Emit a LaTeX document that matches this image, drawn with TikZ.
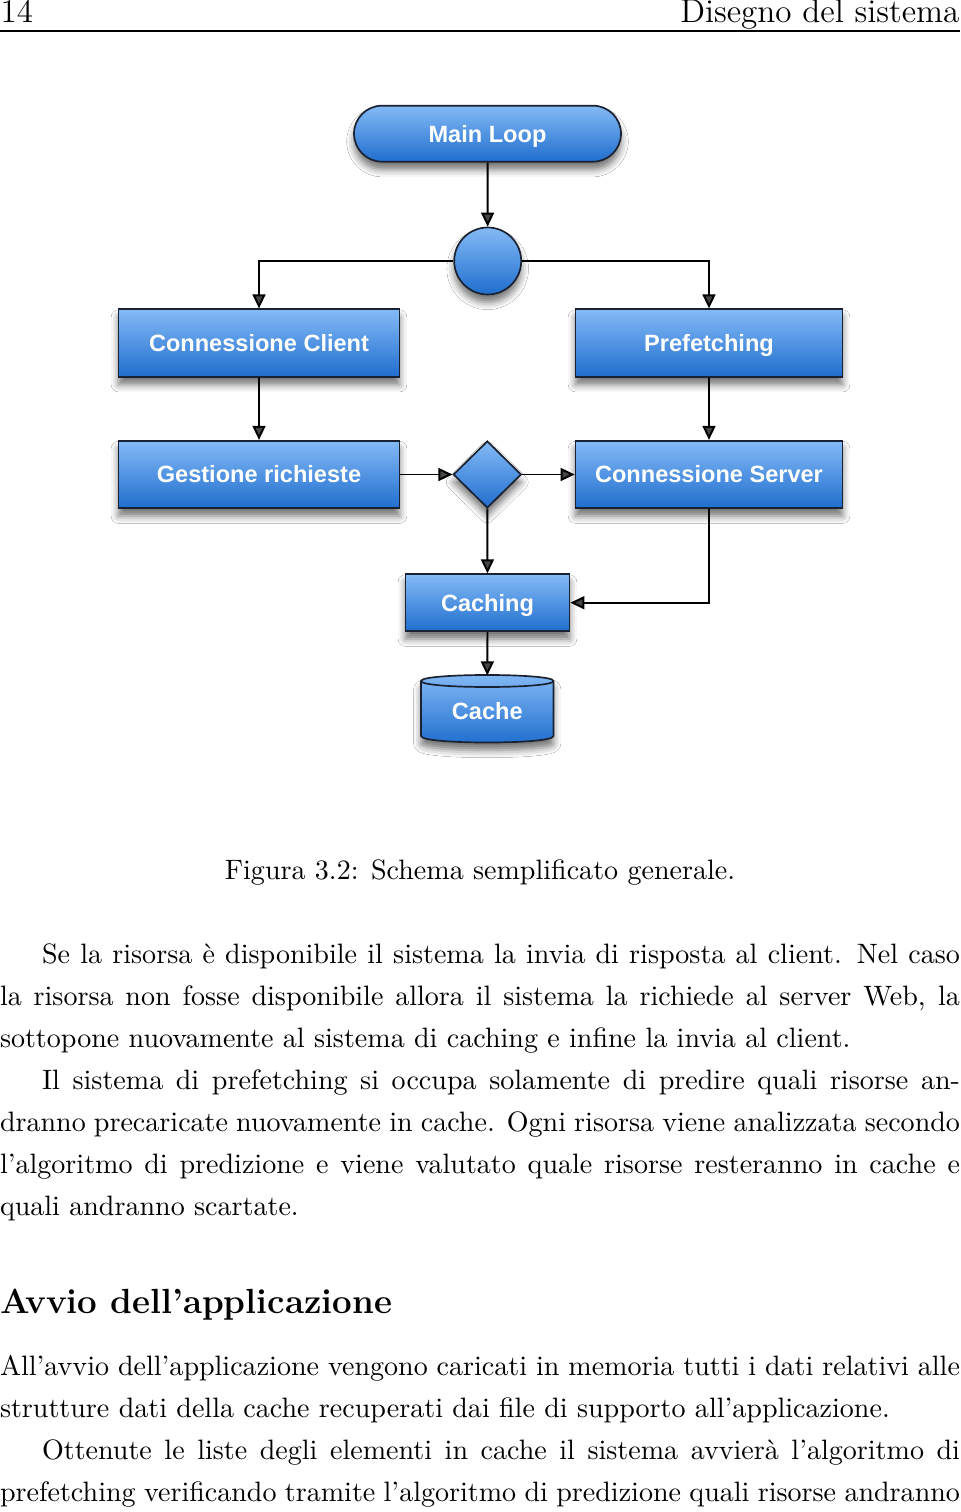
\documentclass[tikz,border=0pt]{standalone}
\usepackage{fontspec}
\newfontfamily\nodefont{Liberation Sans}
\usetikzlibrary{arrows.meta,shapes.geometric,shapes.misc,shadows.blur}
\definecolor{boxtop}{RGB}{132,186,246}
\definecolor{boxbot}{RGB}{32,110,206}
\definecolor{boxline}{RGB}{26,34,50}
\def\pxu{0.3565pt}
\newlength\tw \setlength\tw{342.24pt}
\newcommand\tline[3]{\node[txt] (#1) at (0,#2) {\hbox to \tw{#3}};}
\newcommand\nline[3]{\node[txt] (#1) at (0,#2) {#3};}
\begin{document}
\begin{tikzpicture}[x=\pxu,y=-\pxu,
  shade/.style={blur shadow={shadow xshift=0pt,shadow yshift=-2.8pt,shadow blur radius=2.6pt,shadow opacity=55}},
  box/.style={draw=boxline,line width=0.6pt,top color=boxtop,bottom color=boxbot,
    text=white,font=\nodefont\bfseries\fontsize{8.4}{10}\selectfont,inner sep=0pt,
    text height=6pt,text depth=0pt,shade},
  conn/.style={line width=0.7pt,-{Triangle[length=5pt,width=4.6pt]}},
  txt/.style={anchor=base west,inner sep=0pt,outer sep=0pt},
  hdr/.style={inner sep=0pt,font=\fontsize{11.8}{14}\selectfont},
]
\useasboundingbox[fill=white] (0,0) rectangle (960,1512);

% header
\node[hdr,anchor=base west] (pnum) at (0,22.5) {14};
\node[hdr,anchor=base east] (htitle) at (960,22.5) {Disegno del sistema};
\draw[line width=0.8pt] (0,31) -- (960,31);

% diagram
\node[box,rounded rectangle,minimum width={267*\pxu},minimum height={56*\pxu}] (main) at (487.5,133.7) {Main Loop};
\node[box,circle,minimum size={67*\pxu}] (hub) at (487.7,261) {};
\node[box,rectangle,minimum width={281*\pxu},minimum height={67.5*\pxu}] (cc) at (259,343) {Connessione Client};
\node[box,rectangle,minimum width={267*\pxu},minimum height={67.5*\pxu}] (pre) at (709,343) {Prefetching};
\node[box,rectangle,minimum width={281*\pxu},minimum height={67.5*\pxu}] (gr) at (259,474.5) {Gestione richieste};
\node[box,diamond,minimum width={68*\pxu},minimum height={67*\pxu}] (dec) at (487.3,474.5) {};
\node[box,rectangle,minimum width={267*\pxu},minimum height={67.5*\pxu}] (cs) at (709,474.5) {Connessione Server};
\node[box,rectangle,minimum width={164*\pxu},minimum height={57*\pxu}] (caching) at (487.5,602.7) {Caching};

% cache cylinder
\path[draw=boxline,line width=0.6pt,top color=boxtop,bottom color=boxbot,shade]
  (421,681) -- (421,736) .. controls (421,744.7) and (553.5,744.7) .. (553.5,736)
  -- (553.5,681) .. controls (553.5,673) and (421,673) .. (421,681) -- cycle;
\draw[boxline,line width=0.6pt] (421,681) .. controls (421,689) and (553.5,689) .. (553.5,681);
\node[inner sep=0pt,minimum width={132.5*\pxu},minimum height={70*\pxu},text=white,
    text height=6pt,text depth=0pt,
    font=\nodefont\bfseries\fontsize{8.4}{10}\selectfont] (cache) at (487.3,711) {Cache};

% connectors
\draw[conn] (main) -- (hub);
\draw[conn] (hub.west) -| (cc.north);
\draw[conn] (hub.east) -| (pre.north);
\draw[conn] (cc) -- (gr);
\draw[conn] (pre) -- (cs);
\draw[conn] (gr) -- (dec);
\draw[conn] (dec) -- (cs);
\draw[conn] (dec) -- (caching);
\draw[conn] (cs.south) |- (caching.east);
\draw[conn] (caching.south) -- (cache.north);

% caption
\node[anchor=base,inner sep=0pt] (cap) at (480,879) {Figura 3.2: Schema semplificato generale.};

% body text
\tline{l1}{963}{\hspace*{15pt}Se la risorsa è disponibile il sistema la invia di risposta al client. Nel caso}
\tline{l2}{1005}{la risorsa non fosse disponibile allora il sistema la richiede al server Web, la}
\nline{l3}{1047}{sottopone nuovamente al sistema di caching e infine la invia al client.}
\tline{l4}{1089}{\hspace*{15pt}Il sistema di prefetching si occupa solamente di predire quali risorse an-}
\tline{l5}{1131}{dranno precaricate nuovamente in cache. Ogni risorsa viene analizzata secondo}
\tline{l6}{1173}{l’algoritmo di predizione e viene valutato quale risorse resteranno in cache e}
\nline{l7}{1215}{quali andranno scartate.}
\node[txt,font=\bfseries\fontsize{12.45}{15}\selectfont] (sec) at (0,1313) {Avvio dell’applicazione};
\tline{l8}{1375}{All’avvio dell’applicazione vengono caricati in memoria tutti i dati relativi alle}
\nline{l9}{1417}{strutture dati della cache recuperati dai file di supporto all’applicazione.}
\tline{l10}{1459}{\hspace*{15pt}Ottenute le liste degli elementi in cache il sistema avvierà l’algoritmo di}
\tline{l11}{1501}{prefetching verificando tramite l’algoritmo di predizione quali risorse andranno}
\end{tikzpicture}
\end{document}
